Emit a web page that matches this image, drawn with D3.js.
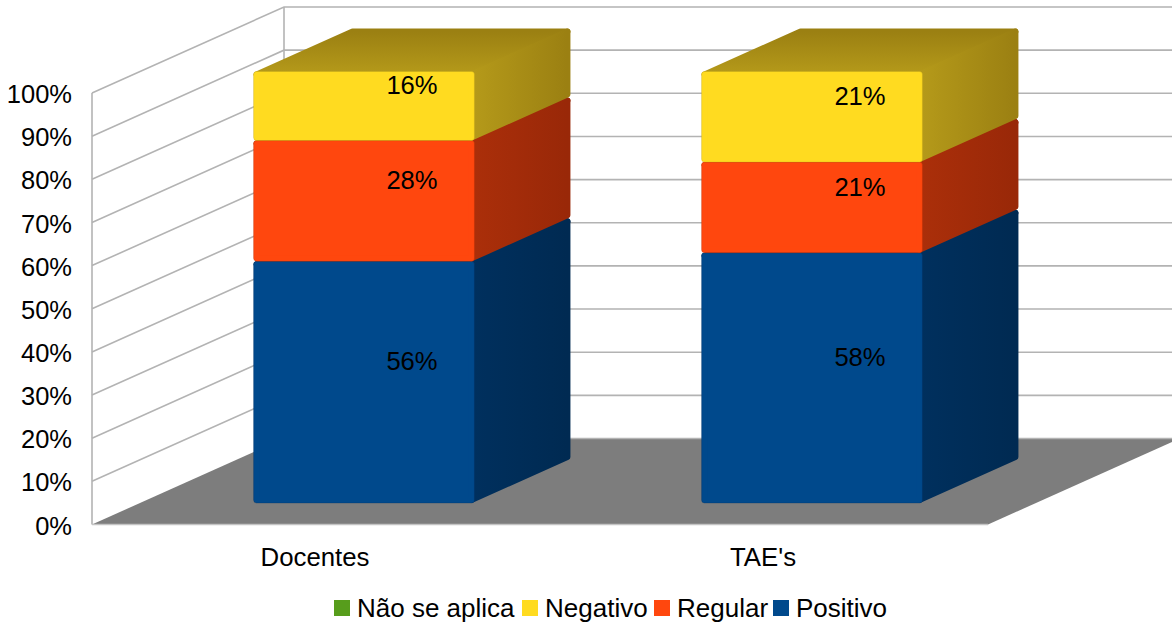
<!DOCTYPE html>
<html>
<head>
<meta charset="utf-8">
<script src="https://cdn.jsdelivr.net/npm/d3@7"></script>
<style>
  html, body { margin: 0; padding: 0; background: #fff; overflow: hidden; }
  text { font-family: "Liberation Sans", Arial, sans-serif; fill: #000; }
</style>
</head>
<body>
<svg id="chart" width="1172" height="626"></svg>
<script>
const categories = ["Docentes", "TAE's"];
const seriesNames = ["Positivo", "Regular", "Negativo", "Não se aplica"];
const positivo = [56, 58];
const regular = [28, 21];
const negativo = [16, 21];
const naoSeAplica = [0, 0];
const yTicks = [0, 10, 20, 30, 40, 50, 60, 70, 80, 90, 100];
const legendOrder = ["Não se aplica", "Negativo", "Regular", "Positivo"];

const seriesColors = { "Positivo": "#00498c", "Regular": "#ff470e", "Negativo": "#ffdb20", "Não se aplica": "#579d1c" };
const sideColors = {
  "Positivo": ["#00305e", "#002a52"],
  "Regular": ["#ab2f0a", "#992808"],
  "Negativo": ["#b59a1a", "#9b8012"],
  "Não se aplica": ["#3d6e14", "#345e11"]
};

const depthX = 192;
const depthY = 86;

const svg = d3.select("#chart");
const defs = svg.append("defs");

const x = d3.scaleBand()
    .domain(categories)
    .range([92, 988])
    .paddingInner(0.507)
    .paddingOuter(0.2535);

const y = d3.scaleLinear()
    .domain([0, 100])
    .range([524.5, 93]);

// plane position plus depth (0 = front of floor, 1 = back wall)
function project(px, py, depth) {
  return [px + depthX * depth, py - depthY * depth];
}

const rows = categories.map((c, i) => ({
  category: c,
  "Positivo": positivo[i],
  "Regular": regular[i],
  "Negativo": negativo[i],
  "Não se aplica": naoSeAplica[i]
}));

const stacked = d3.stack().keys(seriesNames)(rows);

// gradients for the sides and the tops of the boxes
seriesNames.forEach((name, i) => {
  const side = defs.append("linearGradient").attr("id", "side" + i);
  side.append("stop").attr("offset", "0%").attr("stop-color", sideColors[name][0]);
  side.append("stop").attr("offset", "100%").attr("stop-color", sideColors[name][1]);

  const top = defs.append("linearGradient").attr("id", "top" + i)
      .attr("x1", 0).attr("y1", 0).attr("x2", 0).attr("y2", 1);
  top.append("stop").attr("offset", "0%").attr("stop-color", sideColors[name][1]);
  top.append("stop").attr("offset", "100%").attr("stop-color", sideColors[name][0]);
});

const line = d3.line();
const walls = svg.append("g");
const grid = "#b3b3b3";

// floor
walls.append("path")
    .attr("d", line([
      project(x.range()[0], y(0), 0),
      project(x.range()[1], y(0), 0),
      project(x.range()[1], y(0), 1),
      project(x.range()[0], y(0), 1)
    ]) + "Z")
    .attr("fill", "#7d7d7d");

// grid on the left wall and the back wall
yTicks.forEach(t => {
  const a = project(x.range()[0], y(t), 0);
  const b = project(x.range()[0], y(t), 1);
  const c = project(x.range()[1], y(t), 1);
  walls.append("path")
      .attr("d", t === 0 ? line([b, c]) : line([a, b, c]))
      .attr("fill", "none")
      .attr("stroke", grid)
      .attr("stroke-width", 1.6);
});

[0, 1].forEach(depth => {
  walls.append("path")
      .attr("d", line([project(x.range()[0], y(0), depth), project(x.range()[0], y(100), depth)]))
      .attr("stroke", grid)
      .attr("stroke-width", 1.6);
});

walls.append("path")
    .attr("d", line([project(x.range()[0], y(0), 0), project(x.range()[1], y(0), 0)]))
    .attr("stroke", "#c4c4c4")
    .attr("stroke-width", 1.4);

// boxes
const barFront = 0.25;
const barBack = 0.75;
const inset = 3;
const boxes = svg.append("g");

categories.forEach((c, ci) => {
  stacked.forEach((layer, si) => {
    const d = layer[ci];
    const value = d[1] - d[0];
    if (value <= 0) return;
    const name = layer.key;
    const x0 = x(c) + inset;
    const x1 = x(c) + x.bandwidth() - inset;
    const yBottom = y(d[0]) - inset;
    const yTop = y(d[1]) + inset;
    const g = boxes.append("g")
        .attr("stroke-linejoin", "round")
        .attr("stroke-width", inset * 2);

    g.append("path")
        .attr("d", line([
          project(x0, yTop, barFront),
          project(x1, yTop, barFront),
          project(x1, yTop, barBack),
          project(x0, yTop, barBack)
        ]) + "Z")
        .attr("fill", `url(#top${si})`)
        .attr("stroke", `url(#top${si})`);

    g.append("path")
        .attr("d", line([
          project(x1, yBottom, barFront),
          project(x1, yBottom, barBack),
          project(x1, yTop, barBack),
          project(x1, yTop, barFront)
        ]) + "Z")
        .attr("fill", `url(#side${si})`)
        .attr("stroke", `url(#side${si})`);

    const [fx, fy] = project(x0, yTop, barFront);
    g.append("rect")
        .attr("x", fx)
        .attr("y", fy)
        .attr("width", x1 - x0)
        .attr("height", yBottom - yTop)
        .attr("fill", seriesColors[name])
        .attr("stroke", seriesColors[name]);

    // soft dark edge round the front
    g.append("rect")
        .attr("x", fx - inset)
        .attr("y", fy - inset)
        .attr("width", x1 - x0 + inset * 2)
        .attr("height", yBottom - yTop + inset * 2)
        .attr("rx", 3)
        .attr("fill", "none")
        .attr("stroke", sideColors[name][0])
        .attr("stroke-opacity", 0.3)
        .attr("stroke-width", 1);
  });
});

// value labels sit in the middle of each box
const labels = svg.append("g");
categories.forEach((c, ci) => {
  stacked.forEach(layer => {
    const d = layer[ci];
    const value = d[1] - d[0];
    if (value <= 0) return;
    const [lx, ly] = project(x(c) + x.bandwidth() / 2, y((d[0] + d[1]) / 2), 0.5);
    labels.append("text")
        .attr("x", lx)
        .attr("y", ly + 0.5)
        .attr("dy", "0.36em")
        .attr("text-anchor", "middle")
        .attr("font-size", 25.6)
        .text(value + "%");
  });
});

// axes, only their labels are visible
const yAxis = svg.append("g")
    .attr("transform", "translate(92,1.4)")
    .call(d3.axisLeft(y).tickValues(yTicks).tickSize(0).tickPadding(20).tickFormat(t => t + "%"));

const xAxis = svg.append("g")
    .attr("transform", "translate(-1,524.5)")
    .call(d3.axisBottom(x).tickSize(0).tickPadding(23));

yAxis.selectAll("text").attr("font-size", 25.5);
xAxis.selectAll("text").attr("font-size", 25.8);
[yAxis, xAxis].forEach(a => {
  a.select(".domain").remove();
  a.attr("font-family", null);
});

// legend
const legendXs = [334, 522, 654, 773];
const legend = svg.append("g");
legendOrder.forEach((name, i) => {
  legend.append("rect")
      .attr("x", legendXs[i])
      .attr("y", 600)
      .attr("width", 16)
      .attr("height", 16)
      .attr("fill", seriesColors[name]);
  legend.append("text")
      .attr("x", legendXs[i] + 23)
      .attr("y", 617)
      .attr("font-size", 26)
      .text(name);
});
</script>
</body>
</html>
